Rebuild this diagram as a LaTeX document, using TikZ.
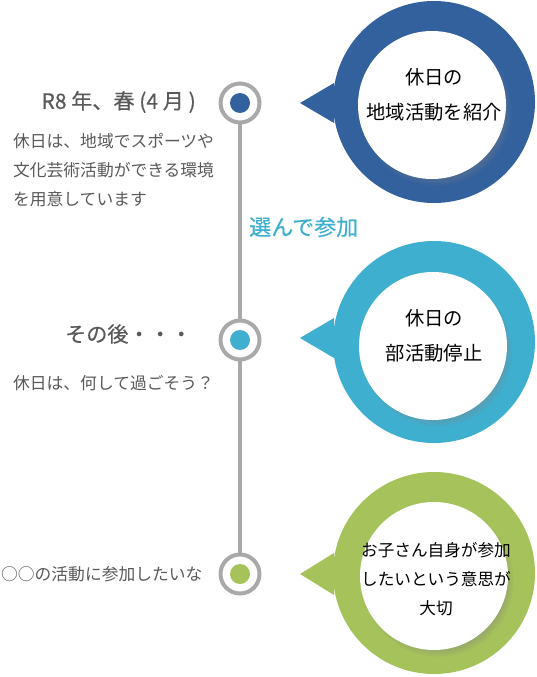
\documentclass[tikz,border=0pt]{standalone}
\usepackage{fontspec}
\setmainfont{Noto Sans CJK JP}
\newfontfamily\headfont[FakeBold=0.5]{Noto Sans CJK JP}
\usetikzlibrary{shadows}

\definecolor{tlblue}{HTML}{33619E}
\definecolor{tlcyan}{HTML}{3FAFD0}
\definecolor{tlgreen}{HTML}{A6C25A}
\definecolor{tlgray}{HTML}{A9A9A9}
\definecolor{txtgray}{HTML}{595959}

\tikzstyle{bubble} = [circle,minimum size=6.06cm,inner sep=0pt]
\tikzstyle{hole} = [circle,fill=white,minimum size=4.44cm,inner sep=0pt,
                    circular drop shadow={shadow xshift=3pt,shadow yshift=-4pt,
                    shadow scale=1.03,opacity=0.5}]
\tikzstyle{ring} = [circle,draw=tlgray,line width=3.4pt,fill=white,
                    minimum size=1.17cm,inner sep=0pt]
\tikzstyle{dotfill} = [circle,minimum size=0.6cm,inner sep=0pt]
\tikzstyle{headtxt} = [text=txtgray,inner sep=0pt,font=\headfont\fontsize{18}{22}\selectfont]
\tikzstyle{notetxt} = [text=txtgray,align=left,inner sep=0pt,
                       font=\fontsize{14.3}{24.7}\selectfont]
\tikzstyle{saytxt} = [align=center,inner sep=0pt,font=\fontsize{16.5}{29.5}\selectfont]
\tikzstyle{smalltxt} = [align=center,inner sep=0pt,font=\fontsize{14.2}{25}\selectfont]

\begin{document}
\begin{tikzpicture}[x=0.03cm,y=-0.03cm]
  \useasboundingbox (0,0) rectangle (537,677);

  \node[bubble,fill=tlblue]  at (434,102) (b1) {};
  \node[bubble,fill=tlcyan]  at (434,342) (b2) {};
  \node[bubble,fill=tlgreen] at (434,573) (b3) {};
  \coordinate (t1) at (300,103);
  \coordinate (t2) at (300,338);
  \coordinate (t3) at (300,574);
  \fill[tlblue]  (t1) -- ++(34,-20) -- ++(0,40) -- cycle;
  \fill[tlcyan]  (t2) -- ++(34,-20) -- ++(0,40) -- cycle;
  \fill[tlgreen] (t3) -- ++(34,-21) -- ++(0,42) -- cycle;

  \node[hole] at (432,105) (h1) {};
  \node[hole] at (433,346) (h2) {};
  \node[hole] at (434,576) (h3) {};

  \node[saytxt] at (434,95) (s1) {休日の\\地域活動を紹介};
  \node[saytxt] at (434,336) (s2) {休日の\\部活動停止};
  \node[smalltxt] at (436,579) (s3) {お子さん自身が参加\\したいという意思が\\大切};

  \node[ring] at (240,103) (m1) {};
  \node[ring] at (240,340) (m2) {};
  \node[ring] at (240,574) (m3) {};
  \draw[tlgray,line width=3.4pt] (m1) -- (m2) -- (m3);
  \node[dotfill,fill=tlblue]  at (m1) (d1) {};
  \node[dotfill,fill=tlcyan]  at (m2) (d2) {};
  \node[dotfill,fill=tlgreen] at (m3) (d3) {};

  \node[headtxt,anchor=east] at (196,102) (e1) {R8 年、春 (4 月 )};
  \node[notetxt,anchor=west] at (13,170) (n1)
       {休日は、地域でスポーツや\\文化芸術活動ができる環境\\を用意しています};
  \node[headtxt,anchor=west,text=tlcyan,font=\headfont\fontsize{18.8}{22}\selectfont]
       at (249,227) (join) {選んで参加};
  \node[headtxt,anchor=east] at (192,334) (e2) {その後・・・};
  \node[notetxt,anchor=west] at (13,383) (n2) {休日は、何して過ごそう？};
  \node[notetxt,anchor=west] at (1,574) (n3) {○○の活動に参加したいな};
\end{tikzpicture}
\end{document}
